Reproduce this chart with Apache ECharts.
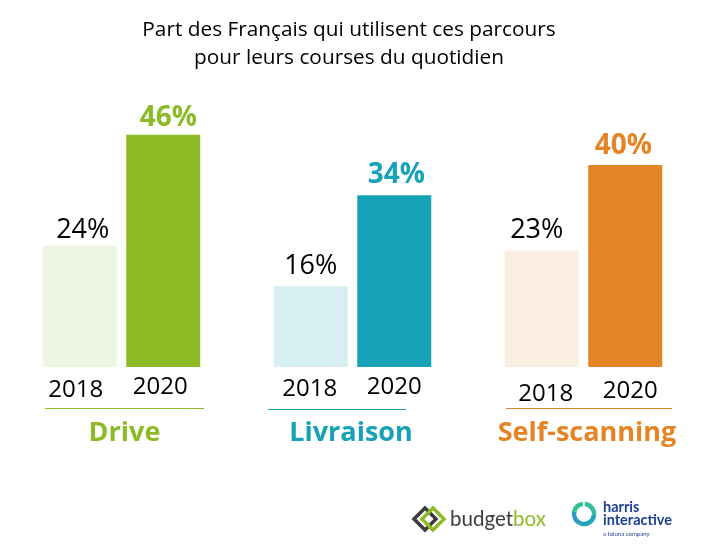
<!DOCTYPE html>
<html>
<head>
<meta charset="utf-8">
<style>
  html, body { margin: 0; padding: 0; background: #fff; }
  #main { width: 717px; height: 553px; }
</style>
<script src="https://cdn.jsdelivr.net/npm/echarts@6/dist/echarts.min.js"></script>
</head>
<body>
<div id="main"></div>
<script>
var years = ["2018", "2020"];
var groupNames = ["Drive", "Livraison", "Self-scanning"];
var driveValues = [24, 46];
var livraisonValues = [16, 34];
var selfScanningValues = [23, 40];

var FONT = "'Open Sans', sans-serif";
var darkColors = ["#8CBB26", "#16A3B7", "#E58425"];
var paleColors = ["#EEF5E3", "#D7EEF2", "#F9EEDF"];
var groupValues = [driveValues, livraisonValues, selfScanningValues];
var gridLefts = [38, 269, 500];
// les étiquettes ne sont pas alignées sur l'original : petits décalages à la main
// padding des années [haut, droite, bas, gauche]
var yearPadding = [
  [[3, 8, 0, 0], [0, 6, 0, 0]],
  [[2, 2, 0, 0], [0, 0, 0, 0]],
  [[7, 0, 0, 8], [4, 0, 0, 10]],
];
var labelOffsets = [
  [[3, 0], [5, -1]],
  [[0, -4], [2, -4]],
  [[-5, -5], [-2, -3]],
];
var namePadding = [
  [0, 0, 0, 6],
  [0, 3, 0, 0],
  [0, 0, 0, 7],
];

var grids = [], xAxes = [], yAxes = [], series = [];
groupNames.forEach(function (name, i) {
  grids.push({ left: gridLefts[i], top: 114.5, width: 167, height: 252.5 });
  xAxes.push({
    type: "category",
    gridIndex: i,
    data: years,
    axisLine: { show: false },
    axisTick: { show: false },
    name: name,
    nameLocation: "middle",
    nameGap: 53,
    nameTextStyle: {
      color: darkColors[i], fontFamily: FONT, fontWeight: "bold", fontSize: 27,
      padding: namePadding[i],
    },
    axisLabel: {
      interval: 0,
      margin: 8,
      formatter: function (v, idx) { return "{y" + idx + "|" + v + "}"; },
      rich: {
        y0: { color: "#000", fontFamily: FONT, fontSize: 24, padding: yearPadding[i][0] },
        y1: { color: "#000", fontFamily: FONT, fontSize: 24, padding: yearPadding[i][1] },
      },
    },
  });
  yAxes.push({ type: "value", gridIndex: i, min: 0, max: 50, show: false });
  series.push({
    type: "bar",
    xAxisIndex: i,
    yAxisIndex: i,
    barWidth: 74,
    data: groupValues[i].map(function (v, j) {
      return {
        value: v,
        itemStyle: { color: j === 0 ? paleColors[i] : darkColors[i] },
        label: j === 0
          ? { color: "#000", fontWeight: "normal", fontSize: 27, offset: labelOffsets[i][j] }
          : { color: darkColors[i], fontWeight: "bold", fontSize: 28, offset: labelOffsets[i][j] },
      };
    }),
    label: {
      show: true,
      position: "top",
      distance: 2,
      fontFamily: FONT,
      formatter: "{c}%",
    },
  });
});

function rule(x1, x2, y, color) {
  return { type: "line", shape: { x1: x1, y1: y, x2: x2, y2: y }, style: { stroke: color, lineWidth: 1 }, silent: true };
}
function diamond(cx, cy, color) {
  return {
    type: "polygon",
    shape: { points: [[cx, cy - 11], [cx + 11, cy], [cx, cy + 11], [cx - 11, cy]] },
    style: { fill: "none", stroke: color, lineWidth: 3.5 },
  };
}
function ringPart(start, end, color) {
  return {
    type: "arc",
    shape: { cx: 584, cy: 514, r: 10, startAngle: start, endAngle: end },
    style: { fill: "none", stroke: color, lineWidth: 4.5 },
  };
}
function logoText(x, y, text, size, weight, color) {
  return {
    type: "text",
    x: x, y: y,
    style: { text: text, fontFamily: "Lato, sans-serif", fontSize: size, fontWeight: weight, fill: color, verticalAlign: "middle" },
  };
}

var chart = echarts.init(document.getElementById("main"));
chart.setOption({
  backgroundColor: "#fff",
  animation: false,
  title: {
    text: "Part des Français qui utilisent ces parcours\npour leurs courses du quotidien",
    left: 344,
    top: 11,
    textAlign: "center",
    textStyle: { color: "#000", fontFamily: FONT, fontWeight: "normal", fontSize: 20.8, lineHeight: 28 },
  },
  grid: grids,
  xAxis: xAxes,
  yAxis: yAxes,
  series: series,
  graphic: [
    rule(45, 204, 408.5, darkColors[0]),
    rule(268, 406, 409.5, darkColors[1]),
    rule(506, 672, 408.5, darkColors[2]),
    diamond(425, 519, "#3C3C3C"),
    diamond(433, 519, "#8CBB26"),
    {
      type: "text", x: 450, y: 519,
      style: {
        text: "{a|budget}{b|box}",
        verticalAlign: "middle",
        rich: {
          a: { fontFamily: "Lato, sans-serif", fontSize: 20.5, fill: "#3C3C3C" },
          b: { fontFamily: "Lato, sans-serif", fontSize: 20.5, fill: "#8CBB26" },
        },
      },
    },
    ringPart(-1.5, 0.1, "#34BFA0"),
    ringPart(0.1, 1.9, "#1FA5B8"),
    ringPart(1.9, 3.4, "#2C9AC4"),
    ringPart(3.4, 4.6, "#2EC48F"),
    logoText(603, 507, "harris", 14.5, "bold", "#1D3F94"),
    logoText(603, 520, "interactive", 14.5, "bold", "#1D3F94"),
    logoText(603, 534, "a toluna company", 6, "normal", "#1D3F94"),
  ],
});
</script>
</body>
</html>
